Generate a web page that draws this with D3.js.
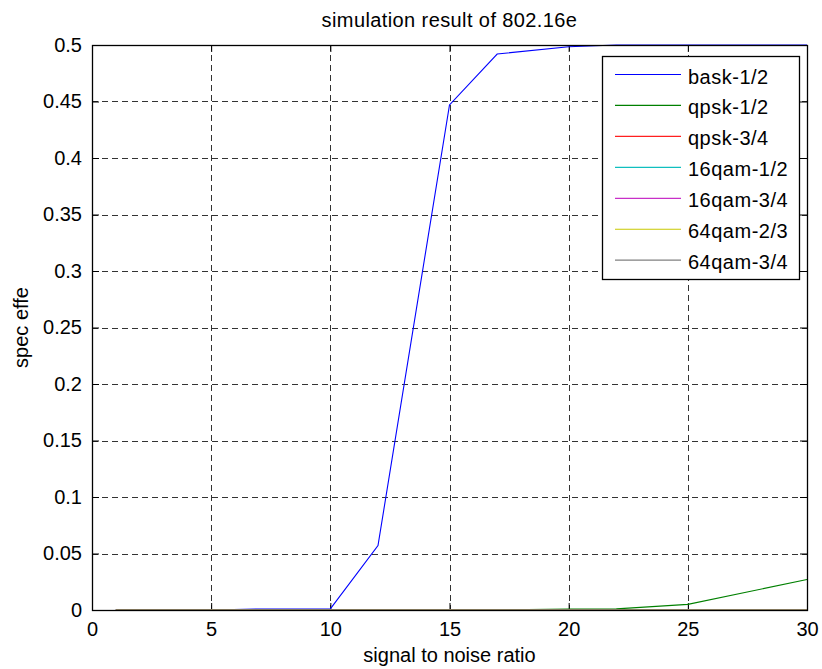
<!DOCTYPE html>
<html>
<head>
<meta charset="utf-8">
<script src="https://cdn.jsdelivr.net/npm/d3@7"></script>
<style>
  body { margin: 0; background: #fff; }
  text { font-family: "Liberation Sans", Arial, Helvetica, sans-serif; fill: #000; }
</style>
</head>
<body>
<div id="chart"></div>
<script>
// data
const snr = [1, 3, 5, 7, 10, 12, 15, 17, 20, 22, 25, 30];
const seriesNames = ["bask-1/2", "qpsk-1/2", "qpsk-3/4", "16qam-1/2", "16qam-3/4", "64qam-2/3", "64qam-3/4"];
const bask12   = [0, 0, 0, 0.0009, 0.001, 0.057, 0.447, 0.492, 0.4985, 0.5, 0.5, 0.5];
const qpsk12   = [0, 0, 0, 0, 0, 0, 0, 0, 0.0008, 0.001, 0.005, 0.027];
const qpsk34   = [0, 0, 0, 0, 0, 0, 0, 0, 0, 0, 0, 0];
const qam16_12 = [0, 0, 0, 0, 0, 0, 0, 0, 0, 0, 0, 0];
const qam16_34 = [0, 0, 0, 0, 0, 0, 0, 0, 0, 0, 0, 0];
const qam64_23 = [0, 0, 0, 0, 0, 0, 0, 0, 0, 0, 0, 0];
const qam64_34 = [0, 0, 0, 0, 0, 0, 0, 0, 0, 0, 0, 0];
const xTicks = [0, 5, 10, 15, 20, 25, 30];
const yTicks = [0, 0.05, 0.1, 0.15, 0.2, 0.25, 0.3, 0.35, 0.4, 0.45, 0.5];
const yTickLabels = ["0", "0.05", "0.1", "0.15", "0.2", "0.25", "0.3", "0.35", "0.4", "0.45", "0.5"];

const colors = ["#0000ff", "#008000", "#ff2020", "#10bfbf", "#c830c8", "#c8c800", "#808080"];
const allSeries = [bask12, qpsk12, qpsk34, qam16_12, qam16_34, qam64_23, qam64_34];

const W = 822, H = 669;
const margin = {left: 92, top: 45, right: 15, bottom: 59};
const width = W - margin.left - margin.right;
const height = H - margin.top - margin.bottom;

const svg = d3.select("#chart").append("svg")
    .attr("width", W)
    .attr("height", H);

const g = svg.append("g")
    .attr("transform", `translate(${margin.left},${margin.top})`);

const x = d3.scaleLinear().domain([0, 30]).range([0, width]);
const y = d3.scaleLinear().domain([0, 0.5]).range([height, 0]);

// grid
g.append("g").selectAll("line")
  .data(xTicks.slice(1, -1))
  .join("line")
    .attr("x1", d => Math.round(x(d)) + 0.5)
    .attr("x2", d => Math.round(x(d)) + 0.5)
    .attr("y1", 0).attr("y2", height)
    .attr("stroke", "#333").attr("stroke-dasharray", "6,4");
g.append("g").selectAll("line")
  .data(yTicks.slice(1, -1))
  .join("line")
    .attr("y1", d => Math.round(y(d)) + 0.5)
    .attr("y2", d => Math.round(y(d)) + 0.5)
    .attr("x1", 0).attr("x2", width)
    .attr("stroke", "#333").attr("stroke-dasharray", "6,4");

// axes, ticks pointing inward like matlab
const fmtY = d => yTickLabels[yTicks.indexOf(d)];
const xAxis = g.append("g")
  .attr("transform", `translate(0,${height})`)
  .call(d3.axisBottom(x).tickValues(xTicks).tickSizeInner(-7).tickSizeOuter(0).tickPadding(12).tickFormat(d3.format("d")));
const yAxis = g.append("g")
  .call(d3.axisLeft(y).tickValues(yTicks).tickSizeInner(-7).tickSizeOuter(0).tickPadding(10).tickFormat(fmtY));
const xTop = g.append("g")
  .call(d3.axisTop(x).tickValues(xTicks).tickSizeInner(-7).tickSizeOuter(0).tickFormat(""));
const yRight = g.append("g")
  .attr("transform", `translate(${width},0)`)
  .call(d3.axisRight(y).tickValues(yTicks).tickSizeInner(-7).tickSizeOuter(0).tickFormat(""));

[xAxis, yAxis, xTop, yRight].forEach(a => {
  a.select(".domain").remove();
  a.selectAll("line").attr("stroke", "#000");
  a.selectAll("text").style("font-size", "20px").attr("fill", "#000");
});

// lines
const line = d3.line()
  .x((d, i) => x(snr[i]))
  .y(d => y(d));

g.append("g").selectAll("path")
  .data(allSeries)
  .join("path")
    .attr("d", d => line(d))
    .attr("fill", "none")
    .attr("stroke", (d, i) => colors[i])
    .attr("stroke-width", 1.1);

// box
g.append("rect")
  .attr("x", 0.5).attr("y", 0.5)
  .attr("width", width).attr("height", height)
  .attr("fill", "none").attr("stroke", "#000").attr("stroke-width", 1.3);

// legend
const lg = svg.append("g").attr("transform", "translate(602,56)");
lg.append("rect")
  .attr("x", 0.5).attr("y", 0.5)
  .attr("width", 197).attr("height", 223)
  .attr("fill", "#fff").attr("stroke", "#000").attr("stroke-width", 1.3);
const items = lg.selectAll("g.item")
  .data(seriesNames)
  .join("g")
    .attr("class", "item")
    .attr("transform", (d, i) => `translate(0,${18.5 + i * 30.95})`);
items.append("line")
  .attr("x1", 13).attr("x2", 79)
  .attr("stroke", (d, i) => colors[i])
  .attr("stroke-width", 1.2);
items.append("text")
  .attr("x", 86).attr("y", 9)
  .style("font-size", "20px")
  .style("letter-spacing", "0.5px")
  .text(d => d);

// titles
svg.append("text")
  .attr("x", margin.left + width / 2).attr("y", 27)
  .attr("text-anchor", "middle")
  .style("font-size", "20px")
  .style("letter-spacing", "0.4px")
  .text("simulation result of 802.16e");

svg.append("text")
  .attr("x", margin.left + width / 2).attr("y", 662)
  .attr("text-anchor", "middle")
  .style("font-size", "20px")
  .text("signal to noise ratio");

svg.append("text")
  .attr("transform", `translate(28,${margin.top + height / 2}) rotate(-90)`)
  .attr("text-anchor", "middle")
  .style("font-size", "20px")
  .text("spec effe");
</script>
</body>
</html>
